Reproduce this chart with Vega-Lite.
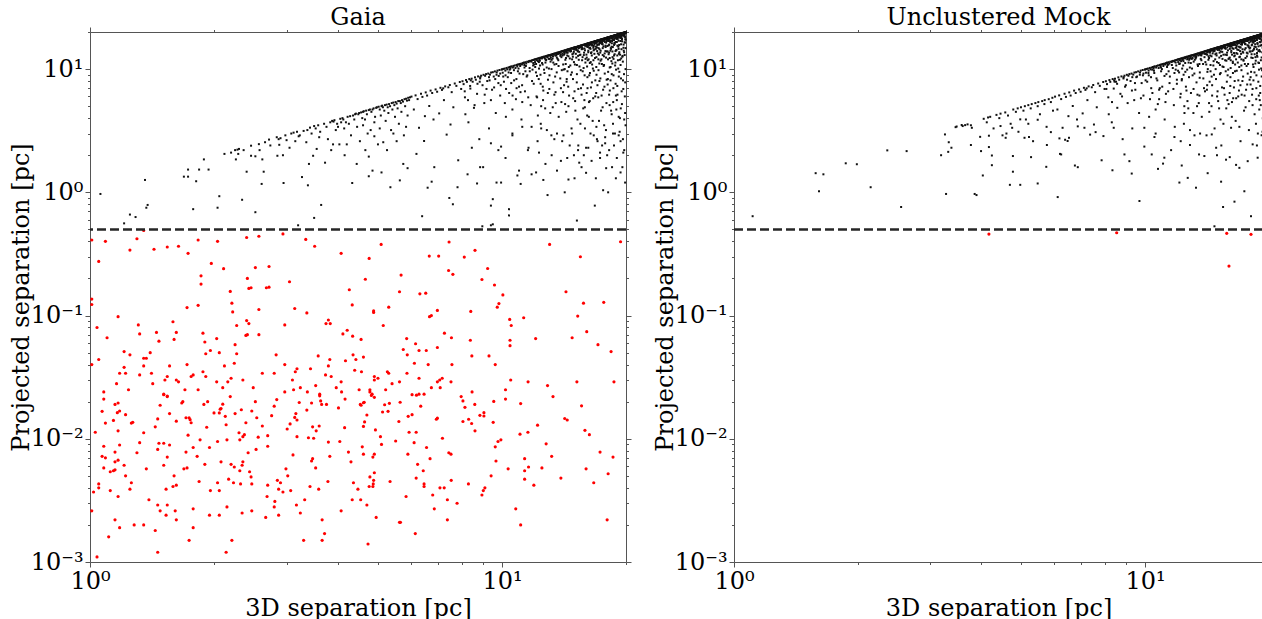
{
"$schema": "https://vega.github.io/schema/vega-lite/v6.json",
"padding": {"left": 9, "top": 6, "right": 0, "bottom": 0},
"spacing": 21,
"config": {
  "font": "DejaVu Serif",
  "view": {"stroke": null},
  "axis": {"labelFont": "DejaVu Serif", "titleFont": "DejaVu Serif", "labelFontSize": 24, "titleFontSize": 24, "titleFontWeight": "normal", "labelColor": "#000", "titleColor": "#000", "domainColor": "#555", "tickColor": "#555", "grid": false, "labelOverlap": false, "labelFlush": false, "labelPadding": 2, "titlePadding": 6},
  "axisLeft": {"titlePadding": -3},
  "axisBottom": {"titlePadding": 3},
  "title": {"font": "DejaVu Serif", "fontSize": 24, "fontWeight": "normal", "offset": -10, "color": "#000"}
},
"hconcat": [
{
  "title": "Gaia",
  "width": 536, "height": 530,
  "resolve": {"axis": {"x": "independent", "y": "independent"}},
  "layer": [
    {
      "data": {"values": "x,y\n1.06,0.97\n1.21,0.56\n1.25,0.66\n1.29,0.63\n1.36,1.26\n1.37,0.75\n1.38,0.79\n1.69,1.34\n1.73,1.34\n1.73,1.53\n1.81,1.23\n1.84,1.53\n1.94,1.53\n1.78,0.73\n1.89,1.85\n2.04,0.75\n2.06,0.93\n2.2,2.1\n2.25,2.2\n2.28,2.22\n2.3,2.25\n2.26,1.85\n2.29,2.05\n2.34,0.87\n2.4,1.47\n2.46,2.39\n2.52,1.96\n2.46,1.98\n2.57,2.46\n2.62,1.85\n2.52,0.69\n2.61,1.17\n2.64,1.47\n2.74,2.4\n2.72,2.68\n2.84,2.8\n2.87,2.7\n2.88,2.43\n2.85,1.98\n2.94,2\n2.95,1.19\n2.12,2.05\n2.36,2.2\n2.58,2.2\n2.66,2.55\n2.9,2.75\n2.98,2.9\n3,2.65\n3.05,2.3\n3.08,3\n3.12,3.05\n3.18,3.1\n3.23,2.9\n3.21,2.85\n3.27,1.33\n3.2,0.54\n3.38,1.14\n3.37,3.2\n3.42,3.35\n3.5,3.45\n3.53,3.3\n3.6,2.8\n3.48,1.98\n3.5,0.62\n3.64,0.79\n3.72,1.74\n3.83,3.7\n3.87,3.8\n3.9,3.75\n3.95,3.2\n3.15,2.6\n3.3,3.15\n3.35,2.55\n3.45,3\n3.58,3.5\n3.62,3.1\n3.7,3.6\n3.75,3.4\n3.78,2.7\n3.92,3.85\n3.98,3.6\n3.55,2.25\n3.85,2.2\n3.4,1.7\n4,3.4\n4.07,3.7\n4.1,4\n4.14,3.3\n4.18,3.7\n3.89,2.45\n4.03,2.45\n4.2,2.45\n4.33,1.19\n4.4,4.3\n4.5,4.4\n4.6,4.5\n4.75,4.65\n4.85,4.7\n4.95,4.85\n4.6,3.5\n4.8,3.2\n4.9,2.85\n4.75,1.95\n4.85,1.5\n4.75,1.35\n4.05,3.95\n4.12,3.9\n4.22,4.1\n4.25,3.6\n4.28,4.15\n4.3,2.9\n4.35,4.2\n4.38,3.9\n4.42,4.35\n4.45,3.4\n4.48,4.3\n4.52,2.6\n4.55,4.45\n4.58,4\n4.62,4.55\n4.65,3.9\n4.68,4.6\n4.7,4.3\n4.72,3\n4.78,4.7\n4.82,4.5\n4.88,4.8\n4.92,4.1\n4.97,4.9\n4.44,1.7\n4.66,2.2\n4.15,2\n4.9,3.7\n5,2.45\n5.05,3.3\n5.15,2.55\n5.1,1.45\n5.1,5\n5.36,1.1\n5.76,1.7\n5.9,1.57\n5.02,4.95\n5.05,4.7\n5.08,4.2\n5.12,5.05\n5.14,4.9\n5.18,4.6\n5.2,5.1\n5.22,3.8\n5.25,5.15\n5.28,4.9\n5.3,4.4\n5.32,5.2\n5.35,5\n5.38,3.2\n5.4,5.3\n5.42,4.7\n5.45,5.35\n5.48,5.1\n5.5,4.1\n5.52,5.4\n5.55,5.25\n5.58,4.8\n5.6,5.5\n5.62,3.6\n5.65,5.5\n5.68,5.3\n5.7,4.5\n5.72,5.6\n5.75,5.45\n5.78,2.9\n5.8,5.7\n5.82,5\n5.85,5.75\n5.88,5.55\n5.9,4.2\n5.92,5.85\n5.95,5.6\n5.98,5.9\n5.26,2.2\n5.55,2.6\n5.65,1.25\n5.45,3\n5.85,3.4\n6.4,0.64\n6.6,1.09\n6.75,1.22\n7.45,0.9\n7.6,0.8\n7.8,1.1\n8.45,2.3\n8.25,1.4\n8.85,1.6\n8.7,1.18\n9.4,2.5\n9.8,2.2\n9,1.6\n8.96,0.53\n9.4,0.54\n9.5,0.55\n9.4,0.78\n9.5,0.88\n9.7,1.2\n9.95,1.2\n10.9,1.37\n11.1,1.17\n11,1.5\n10.4,0.73\n10.4,0.65\n10.6,2.9\n11.2,3.4\n11.6,2.3\n10.2,1.9\n11.8,1.4\n12.6,1.26\n12.9,0.95\n12.3,2.1\n12.75,1.7\n13.2,2\n13.6,1.5\n13.4,2.7\n12.1,1.45\n13.9,1.8\n12.45,3.3\n14.2,1\n14.5,1.27\n15.2,0.59\n14,2.6\n14.4,1.9\n14.8,3\n15.3,2.2\n15.6,1.6\n15.9,3.3\n14.6,2.4\n15,1.3\n15.4,1.74\n15.8,2\n16,1.44\n16.8,0.78\n17.6,1.04\n17.9,1.57\n16.2,2.3\n16.5,1.8\n17,2.7\n17.3,1.9\n17.7,3.5\n16.4,3\n16.9,1.3\n17.5,2.4\n16.1,4.2\n17.2,3.8\n17.8,2.8\n18.2,2.2\n18.6,3\n19,1.9\n19.4,2.6\n19.8,3.9\n18.4,4.6\n19.2,4.1\n19.7,2.1\n18.9,1.3\n19.6,1.6\n18.1,1\n19.9,1.2\n6.03,5.98\n6.11,4.7\n6.17,6.12\n6.24,5.71\n6.29,3.34\n6.36,6.31\n6.41,5.95\n6.47,2.61\n6.53,6.47\n6.58,6.1\n6.66,5.02\n6.71,6.69\n6.77,6.4\n6.82,3.9\n6.9,6.84\n6.96,6.55\n7.04,4.37\n7.09,7.05\n7.15,6.78\n7.23,5.6\n7.28,7.24\n7.34,2.94\n7.41,7.12\n7.47,7.43\n7.55,6.5\n7.62,4.9\n7.68,7.64\n7.75,7.31\n7.83,1.82\n7.9,7.86\n7.96,6.9\n6.2,2.05\n6.85,1.6\n7.5,3.55\n6.5,4.15\n7.2,6.98\n8.02,7.97\n8.07,7.55\n8.13,5.9\n8.18,8.15\n8.22,7.88\n8.29,3.7\n8.33,8.3\n8.38,6.95\n8.44,8.36\n8.49,7.9\n8.55,4.85\n8.6,8.57\n8.64,8.2\n8.7,6.3\n8.75,8.72\n8.81,2.7\n8.86,8.6\n8.9,8.84\n8.97,7.4\n9.02,8.99\n9.06,5.3\n9.1,8.83\n9.15,9.11\n9.21,8\n9.26,9.2\n9.3,3.3\n9.35,9.02\n9.41,9.38\n9.46,6.8\n9.5,9.44\n9.55,8.7\n9.61,9.58\n9.66,4.4\n9.71,9.4\n9.75,9.72\n9.8,7.7\n9.86,9.83\n9.9,9.2\n9.95,2.35\n9.98,9.9\n8.4,8.1\n8.85,8.4\n9.3,8.6\n9.7,9\n8.15,4.3\n9.4,5.6\n9.9,6.1\n10.01,9.97\n10.04,9.35\n10.08,10.03\n10.11,7.9\n10.15,10.1\n10.19,9.72\n10.22,4.1\n10.26,10.22\n10.3,9.95\n10.33,8.6\n10.37,10.3\n10.41,6.4\n10.44,10.4\n10.48,10.1\n10.52,9.3\n10.55,10.52\n10.6,3\n10.63,10.3\n10.66,10.61\n10.7,8.1\n10.74,10.7\n10.78,10.2\n10.81,5.7\n10.85,10.8\n10.89,10.5\n10.93,9.6\n10.96,10.92\n11,7.2\n11.04,10.99\n11.07,10.6\n11.11,11.05\n11.15,3.9\n11.18,10.9\n11.22,11.19\n11.26,9.1\n11.3,11.24\n11.33,10.8\n11.37,6.6\n11.41,11.38\n11.45,11.1\n11.48,8.7\n11.52,11.49\n11.56,2.2\n11.6,11.4\n11.63,11.6\n11.67,10.2\n11.7,11.66\n11.74,5.1\n11.78,11.5\n11.82,11.79\n11.86,9.9\n11.9,11.85\n11.94,7.6\n11.98,11.92\n10.5,10.45\n10.9,10.85\n11.3,11.28\n11.7,11.64\n10.2,8.9\n10.85,7\n11.4,9.6\n11.9,10.7\n10.6,4.7\n11.2,5.4\n11.8,3.4\n12.01,11.96\n12.03,11.4\n12.06,12.02\n12.09,9.4\n12.12,12.08\n12.14,11.8\n12.17,5.9\n12.2,12.17\n12.23,11.6\n12.26,12.2\n12.28,8.3\n12.31,12.27\n12.34,12\n12.37,10.7\n12.39,12.36\n12.42,3.6\n12.45,12.3\n12.48,12.44\n12.51,11.2\n12.53,12.5\n12.56,7.2\n12.59,12.45\n12.62,12.58\n12.65,9.9\n12.67,12.62\n12.7,12.3\n12.73,4.8\n12.76,12.72\n12.79,11.9\n12.81,12.78\n12.84,10.3\n12.87,12.6\n12.9,12.86\n12.92,6.4\n12.95,12.9\n12.98,12.1\n13.01,12.97\n13.04,8.9\n13.07,13.02\n13.1,12.8\n13.12,11.5\n13.15,13.1\n13.18,2.9\n13.21,13\n13.24,13.2\n13.27,12.2\n13.3,13.25\n13.33,7.8\n13.35,13.1\n13.38,13.34\n13.41,10.9\n13.44,13.4\n13.47,12.9\n13.5,5.3\n13.53,13.48\n13.56,13.1\n13.58,9.4\n13.61,13.57\n13.64,13.3\n13.67,13.63\n13.7,11.8\n13.73,4.1\n13.76,13.72\n13.79,13.4\n13.82,13.78\n13.85,8.4\n13.88,13.6\n13.91,13.87\n13.94,12.5\n13.97,13.93\n12.1,11\n12.5,12.2\n12.9,12.5\n13.3,12.7\n13.7,13.3\n12.3,10.1\n12.75,11.3\n13.2,11.9\n13.65,12.1\n12.4,9\n13,10.1\n13.55,11\n12.6,6.7\n13.4,6.2\n13.9,7\n12.2,2.6\n12.85,3.2\n13.6,3\n12.45,5\n13.1,4.4\n14.01,13.97\n14.03,13.3\n14.05,14.01\n14.08,10.9\n14.1,14.06\n14.12,13.8\n14.15,7.4\n14.17,14.14\n14.2,13.7\n14.22,14.18\n14.25,11.9\n14.27,14.23\n14.3,14\n14.32,4.5\n14.35,14.31\n14.37,13.6\n14.4,14.36\n14.42,9.6\n14.45,14.4\n14.47,14.1\n14.5,12.7\n14.52,14.48\n14.55,6.1\n14.57,14.53\n14.6,14.2\n14.62,14.59\n14.65,10.7\n14.67,14.63\n14.7,14\n14.72,14.69\n14.75,3.3\n14.77,14.7\n14.8,14.76\n14.82,13.2\n14.85,14.81\n14.87,8.3\n14.9,14.6\n14.92,14.89\n14.95,11.4\n14.97,14.93\n15,14.5\n15.02,14.99\n15.05,5.5\n15.07,15.03\n15.1,14.7\n15.12,15.08\n15.15,12.4\n15.17,15.13\n15.2,9.1\n15.22,15\n15.25,15.21\n15.27,13.9\n15.3,15.26\n15.32,2.4\n15.35,15.3\n15.37,14.8\n15.4,15.37\n15.42,10.5\n15.45,15.41\n15.47,15.1\n15.5,13.1\n15.52,15.49\n15.55,7\n15.57,15.53\n15.6,15.2\n15.62,15.59\n15.65,11.8\n15.67,15.63\n15.7,14.6\n15.72,15.69\n15.75,4.8\n15.77,15.7\n15.8,15.76\n15.82,13.6\n15.85,15.81\n15.87,8.9\n15.9,15.5\n15.92,15.89\n15.95,12.1\n15.97,15.93\n14.15,13.1\n14.4,12.9\n14.65,13.9\n14.9,13.4\n15.15,14.3\n15.4,13.8\n15.65,14.9\n15.9,14.2\n14.3,12.3\n14.8,12\n15.3,12.8\n15.8,13\n14.2,10\n14.7,9\n15.2,10.8\n15.7,9.6\n14.35,7.9\n15,6.6\n15.6,6.2\n14.5,5\n15.25,3.9\n15.85,5.6\n14.1,2.9\n14.95,2\n15.5,3.6\n14.6,14.55\n15,14.96\n15.35,15.33\n15.75,15.72\n14.45,14.42\n14.85,14.8\n15.55,15.5\n15.95,15.9\n16.01,15.97\n16.02,15.4\n16.04,16.01\n16.06,12.4\n16.08,16.05\n16.1,15.8\n16.12,8.6\n16.14,16.11\n16.16,15.5\n16.18,16.15\n16.2,13.7\n16.22,16.18\n16.24,15.9\n16.26,5.4\n16.28,16.25\n16.3,15.6\n16.32,16.29\n16.34,11.2\n16.36,16.32\n16.38,16\n16.4,14.6\n16.42,16.39\n16.44,7.1\n16.46,16.42\n16.48,16.1\n16.5,16.47\n16.52,12.9\n16.54,16.5\n16.56,15.7\n16.58,16.55\n16.6,3.8\n16.62,16.5\n16.64,16.61\n16.66,14.9\n16.68,16.65\n16.7,9.7\n16.72,16.4\n16.74,16.71\n16.76,13.3\n16.78,16.74\n16.8,16.3\n16.82,16.79\n16.84,6\n16.86,16.83\n16.88,16.5\n16.9,15.2\n16.92,16.89\n16.94,10.4\n16.96,16.92\n16.98,16.6\n17,16.97\n17.02,14\n17.04,17\n17.06,2.6\n17.08,17.05\n17.1,16.7\n17.12,17.09\n17.14,12\n17.16,17.12\n17.18,16.9\n17.2,15.8\n17.22,17.19\n17.24,8\n17.26,17.22\n17.28,16.8\n17.3,17.27\n17.32,13.6\n17.34,17.3\n17.36,17\n17.38,17.35\n17.4,4.6\n17.42,17.38\n17.44,16.4\n17.46,17.43\n17.48,11\n17.5,17.46\n17.52,17.1\n17.54,17.51\n17.56,14.8\n17.58,17.54\n17.6,6.8\n17.62,17.59\n17.64,17.2\n17.66,17.63\n17.68,12.7\n17.7,17.66\n17.72,16.9\n17.74,17.71\n17.76,9.2\n17.78,17.74\n17.8,17.4\n17.82,17.79\n17.84,15.5\n17.86,17.82\n17.88,3.2\n17.9,17.87\n17.92,17.5\n17.94,17.91\n17.96,13.9\n17.98,17.94\n16.1,15.2\n16.3,14.8\n16.5,15.9\n16.7,15.4\n16.9,16.2\n17.1,15.9\n17.3,16.5\n17.5,16\n17.7,17\n17.9,16.4\n16.2,14.1\n16.45,13.5\n16.75,14.4\n17,15\n17.25,14.5\n17.55,15.9\n17.85,15.1\n16.15,11.8\n16.55,10.9\n16.95,12.5\n17.35,11.7\n17.75,13.4\n16.35,9.3\n16.85,8.1\n17.15,9.8\n17.65,10.6\n16.05,6.4\n16.65,5.8\n17.05,7.4\n17.45,6.1\n17.95,8.2\n16.25,4.1\n16.95,3.4\n17.55,4.9\n16.4,16.36\n16.8,16.77\n17.2,17.17\n17.6,17.55\n17.95,17.9\n16.15,16.12\n16.6,16.57\n17.05,17.02\n17.45,17.42\n17.85,17.8\n16.3,16.2\n16.75,16.6\n17.15,17\n17.65,17.45\n16,2.3\n16.7,2.9\n17.3,2.1\n17.8,2.5\n18.01,17.97\n18.02,17.5\n18.04,18.01\n18.05,13.9\n18.07,18.04\n18.08,17.8\n18.1,9.5\n18.11,18.08\n18.13,17.3\n18.14,18.11\n18.16,15.6\n18.17,18.14\n18.19,17.9\n18.2,6.2\n18.22,18.19\n18.23,17.6\n18.25,18.22\n18.26,12.3\n18.28,18.25\n18.29,18\n18.31,16.5\n18.32,18.29\n18.34,8.1\n18.35,18.32\n18.37,18.1\n18.38,18.35\n18.4,14.6\n18.41,18.38\n18.43,17.7\n18.44,18.41\n18.46,4.3\n18.47,18.3\n18.49,18.46\n18.5,16.9\n18.52,18.49\n18.53,11.1\n18.55,18.2\n18.56,18.53\n18.58,15.1\n18.59,18.56\n18.61,18.3\n18.62,18.59\n18.64,7\n18.65,18.62\n18.67,18.4\n18.68,17.3\n18.7,18.67\n18.71,12.9\n18.73,18.69\n18.74,18.4\n18.76,18.73\n18.77,16\n18.79,18.76\n18.8,3\n18.82,18.79\n18.83,18.5\n18.85,18.82\n18.86,14\n18.88,18.85\n18.89,18.1\n18.91,18.88\n18.92,9.9\n18.94,18.91\n18.95,18.6\n18.97,17.6\n18.98,18.95\n19,5.6\n19.01,18.98\n19.03,18.7\n19.04,19.01\n19.06,15.5\n19.07,19.04\n19.09,18.8\n19.1,19.07\n19.12,11.8\n19.13,19.1\n19.15,18.4\n19.16,19.13\n19.18,17\n19.19,19.16\n19.21,8.7\n19.22,19.19\n19.24,18.9\n19.25,19.22\n19.27,13.7\n19.28,19.25\n19.3,18.6\n19.31,19.28\n19.33,4\n19.34,19.31\n19.36,19\n19.37,17.9\n19.39,19.36\n19.4,10.8\n19.42,19.39\n19.43,19.1\n19.45,19.42\n19.46,15.9\n19.48,19.45\n19.49,18.8\n19.51,19.48\n19.52,6.6\n19.54,19.51\n19.55,19.2\n19.57,16.8\n19.58,19.55\n19.6,12.6\n19.61,19.58\n19.63,19.3\n19.64,19.61\n19.66,2.7\n19.67,19.64\n19.69,19\n19.7,19.67\n19.72,14.9\n19.73,19.7\n19.75,19.4\n19.76,19.73\n19.78,9.1\n19.79,19.76\n19.81,19.5\n19.82,18.4\n19.84,19.81\n19.85,13\n19.87,19.84\n19.88,19.5\n19.9,19.87\n19.91,7.8\n19.93,19.9\n19.94,19.6\n19.96,17.3\n19.97,19.94\n19.99,19.7\n18.1,17.1\n18.3,16.9\n18.5,17.8\n18.7,17.2\n18.9,18\n19.1,17.6\n19.3,18.3\n19.5,17.9\n19.7,18.8\n19.9,18.2\n18.2,15.8\n18.45,15.2\n18.75,16.3\n19,16.6\n19.25,15.7\n19.55,17.4\n19.85,16.5\n18.15,13.2\n18.55,12.5\n18.95,14.3\n19.35,13.1\n19.75,14.1\n18.35,10.4\n18.85,11.3\n19.15,10.1\n19.65,11.5\n18.05,7.5\n18.65,8.9\n19.05,7.3\n19.45,8.4\n19.95,10\n18.25,5.1\n18.95,4.7\n19.55,5.2\n19.9,4.4\n18.4,18.37\n18.8,18.77\n19.2,19.17\n19.6,19.57\n19.95,19.92\n18.15,18.12\n18.6,18.57\n19.05,19.02\n19.45,19.41\n19.85,19.82\n18.3,18.2\n18.75,18.6\n19.15,19\n19.65,19.45\n18,2\n18.7,2.4\n19.3,3.1\n19.8,2.2\n18.5,1.6\n19.4,1.45\n18.6,3.6\n19.2,2.9\n19.95,3.5\n18.9,6.1\n19.7,6.9\n8.12,6.6\n8.37,7.3\n8.58,5.1\n8.83,7.9\n9.08,6.2\n9.33,8.1\n9.57,7.1\n9.82,8.8\n8.27,5.6\n8.72,7.6\n9.17,6.9\n9.63,8.3\n9.93,7.4\n10.07,8.7\n10.23,6.9\n10.38,9.4\n10.53,7.7\n10.69,9.8\n10.84,8.3\n11.03,9.2\n11.19,7.4\n11.34,10.3\n11.52,8.9\n11.68,9.6\n11.83,8\n11.97,10.9\n10.16,5.3\n10.61,6.1\n11.09,6.5\n11.58,5.9\n10.44,9.9\n10.97,10.1\n11.43,10.6\n11.91,11.2\n12.04,10.4\n12.16,8.8\n12.29,11.4\n12.41,7.6\n12.55,10.9\n12.68,9.3\n12.8,11.8\n12.93,8.2\n13.06,12.1\n13.19,10\n13.32,11.3\n13.46,8.7\n13.59,12.4\n13.72,10.6\n13.86,12.8\n13.97,9.8\n12.13,6\n12.58,5.6\n13.03,6.9\n13.49,6.5\n13.94,5.4\n12.36,11.7\n12.74,12\n13.14,12.4\n13.53,12.9\n13.89,13.1\n12.22,4.2\n13.28,4.9\n14.03,12.9\n14.11,9.9\n14.19,13.4\n14.28,11\n14.36,8.3\n14.44,13.6\n14.53,10.4\n14.61,12.2\n14.69,14\n14.78,9.4\n14.86,12.6\n14.94,13.8\n15.03,10.9\n15.11,13.3\n15.19,7.8\n15.28,14.2\n15.36,11.9\n15.44,13\n15.53,9.8\n15.61,14.5\n15.69,12.5\n15.78,10.2\n15.86,14.7\n15.94,11.3\n14.07,6.5\n14.48,7.2\n14.89,5.8\n15.32,6.9\n15.73,7.5\n14.23,5.2\n15.07,4.6\n15.89,4.9\n14.65,14.2\n15.15,14.7\n15.57,15\n14.32,13.9\n14.98,14.4\n16.03,13.1\n16.09,10.5\n16.16,15.1\n16.23,12\n16.29,8.9\n16.36,14.9\n16.42,11.4\n16.49,13.7\n16.56,15.5\n16.62,10.1\n16.69,14.2\n16.76,15.9\n16.82,12.3\n16.89,14.6\n16.96,9\n17.03,15.7\n17.09,13.4\n17.16,14.8\n17.23,11.1\n17.29,16.2\n17.36,14.1\n17.43,12\n17.49,16.5\n17.56,13\n17.63,15.3\n17.69,10.8\n17.76,16.6\n17.83,14\n17.89,12.4\n17.96,16.9\n16.13,7\n16.53,7.8\n16.93,6.4\n17.33,8.4\n17.73,7.2\n16.33,5.5\n17.13,5.9\n17.93,5.3\n16.47,15.8\n16.87,16.3\n17.27,16.7\n17.67,17.1\n16.07,15.6\n17.47,16.8\n16.67,11.8\n17.19,13.1\n18.03,15.4\n18.09,12\n18.14,16.9\n18.2,13.6\n18.26,10.3\n18.31,17\n18.37,14.8\n18.43,11.6\n18.48,16.2\n18.54,13.9\n18.6,17.4\n18.65,12.1\n18.71,15.7\n18.77,17.8\n18.82,10.7\n18.88,16.6\n18.94,14.2\n18.99,17.7\n19.05,12.9\n19.11,18.1\n19.16,15.2\n19.22,13.3\n19.28,18.3\n19.33,11.9\n19.39,16.9\n19.45,18.5\n19.5,14.5\n19.56,17.6\n19.62,12.8\n19.67,18.7\n19.73,15.8\n19.79,13.7\n19.84,18.9\n19.9,16.4\n19.96,14.8\n18.07,8.3\n18.47,9.1\n18.87,7.6\n19.27,9.5\n19.67,8.1\n18.27,6.7\n19.07,6.2\n19.87,6\n18.57,17.9\n18.97,18.4\n19.37,18.7\n19.77,19.1\n18.17,17.6\n19.57,18.9\n18.77,13.2\n19.47,12.2\n18.33,14.1\n19.19,14.6\n19.93,17.5\n18.62,5.4\n19.42,4.8", "format": {"type": "csv", "parse": {"x": "number", "y": "number"}}},
      "mark": {"type": "point", "shape": "square", "filled": true, "size": 4, "color": "#111", "opacity": 1, "strokeWidth": 0},
      "encoding": {
        "x": {"field": "x", "type": "quantitative", "scale": {"type": "log", "domain": [1, 20], "nice": false},
          "axis": {"orient": "bottom", "title": "3D separation [pc]", "values": [1,2,3,4,5,6,7,8,9,10,20], "labelExpr": "datum.value == 1 ? '10⁰' : datum.value == 10 ? '10¹' : ''", "tickSize": {"condition": {"test": "datum.value == 1 || datum.value == 10", "value": 5}, "value": 2.5}}},
        "y": {"field": "y", "type": "quantitative", "scale": {"type": "log", "domain": [0.001, 20], "nice": false},
          "axis": {"orient": "left", "title": "Projected separation [pc]", "values": [0.001,0.002,0.003,0.004,0.005,0.006,0.007,0.008,0.009,0.01,0.02,0.03,0.04,0.05,0.06,0.07,0.08,0.09,0.1,0.2,0.3,0.4,0.5,0.6,0.7,0.8,0.9,1,2,3,4,5,6,7,8,9,10,20], "labelExpr": "abs(log(datum.value)/LN10 - round(log(datum.value)/LN10)) < 0.01 ? ['10⁻³','10⁻²','10⁻¹','10⁰','10¹'][round(log(datum.value)/LN10) + 3] : ''", "tickSize": {"condition": {"test": "abs(log(datum.value)/LN10 - round(log(datum.value)/LN10)) < 0.01", "value": 5}, "value": 2.5}}}
      }
    },
    {
      "data": {"values": "x,y\n1.01,0.41\n1.09,0.40\n1.35,0.49\n1.30,0.42\n1.25,0.34\n1.05,0.275\n1.43,0.345\n1.54,0.36\n1.64,0.365\n1.73,0.32\n1.83,0.41\n2.04,0.40\n1.97,0.265\n2.11,0.24\n1.86,0.21\n1.86,0.18\n2.40,0.43\n2.57,0.44\n2.94,0.46\n3.34,0.415\n3.51,0.365\n4.07,0.32\n2.52,0.245\n2.72,0.25\n2.41,0.20\n2.43,0.166\n2.46,0.168\n2.68,0.168\n2.72,0.17\n3.05,0.188\n4.26,0.162\n4.33,0.122\n1.01,0.136\n1.01,0.123\n2.19,0.157\n2.21,0.126\n2.22,0.107\n1.72,0.116\n1.83,0.121\n2.57,0.112\n3.14,0.114\n3.36,0.105\n1.17,0.098\n1.04,0.080\n1.10,0.066\n1.31,0.084\n1.32,0.071\n1.45,0.073\n1.47,0.062\n1.59,0.089\n1.62,0.073\n1.60,0.064\n1.88,0.072\n1.90,0.061\n2.03,0.065\n1.96,0.052\n1.91,0.049\n2.06,0.050\n2.27,0.083\n2.40,0.091\n2.43,0.086\n2.39,0.069\n2.41,0.070\n2.57,0.070\n2.25,0.058\n2.27,0.049\n2.24,0.041\n2.12,0.039\n2.97,0.084\n2.83,0.048\n2.97,0.040\n3.79,0.092\n3.74,0.086\n3.83,0.086\n4.11,0.071\n4.21,0.076\n4.34,0.068\n4.35,0.048\n4.42,0.044\n4.17,0.043\n4.39,0.036\n3.58,0.047\n3.82,0.044\n3.79,0.039\n3.73,0.033\n3.85,0.032\n3.43,0.037\n3.18,0.037\n3.15,0.035\n3.10,0.030\n3.24,0.026\n3.12,0.025\n2.97,0.024\n3.53,0.027\n3.37,0.024\n3.61,0.023\n3.96,0.026\n4.07,0.029\n4.08,0.024\n2.62,0.034\n2.80,0.034\n2.49,0.026\n2.35,0.030\n2.20,0.031\n2.16,0.029\n2.03,0.029\n2.10,0.026\n1.83,0.025\n1.70,0.025\n1.88,0.035\n1.91,0.032\n1.76,0.032\n1.78,0.033\n1.72,0.040\n1.62,0.030\n1.64,0.029\n1.52,0.030\n1.54,0.032\n1.56,0.039\n1.51,0.023\n1.54,0.022\n1.40,0.050\n1.35,0.045\n1.37,0.045\n1.35,0.039\n1.25,0.048\n1.21,0.051\n1.32,0.033\n1.41,0.034\n1.42,0.028\n1.21,0.038\n1.22,0.034\n1.18,0.034\n1.05,0.044\n1.01,0.040\n1.16,0.028\n1.24,0.025\n1.08,0.024\n5.09,0.378\n4.76,0.291\n4.66,0.197\n7.44,0.395\n6.66,0.304\n7.02,0.304\n8.10,0.298\n8.60,0.338\n7.42,0.232\n7.60,0.216\n5.69,0.213\n5.64,0.156\n6.32,0.15\n6.53,0.152\n5.31,0.117\n4.88,0.109\n4.88,0.106\n5.15,0.083\n6.67,0.098\n6.74,0.10\n6.97,0.110\n8.40,0.108\n9.23,0.241\n8.94,0.196\n9.59,0.177\n10.05,0.147\n9.83,0.125\n9.74,0.117\n10.44,0.093\n10.53,0.083\n11.29,0.096\n13.05,0.378\n15.50,0.30\n19.4,0.397\n14.3,0.156\n15.77,0.126\n17.66,0.128\n15.27,0.099\n16.06,0.074\n14.8,0.066\n17.1,0.058\n18.4,0.051\n12.07,0.065\n10.46,0.063\n10.46,0.057\n8.38,0.063\n8.45,0.047\n9.3,0.047\n9.63,0.040\n7.54,0.066\n7.25,0.072\n6.97,0.055\n6.17,0.059\n6.29,0.052\n6.55,0.052\n5.87,0.065\n5.76,0.053\n5.89,0.048\n6.13,0.041\n6.62,0.040\n7.56,0.040\n4.55,0.064\n4.61,0.046\n4.56,0.035\n4.90,0.032\n4.90,0.030\n5.0,0.031\n5.27,0.035\n5.31,0.034\n5.88,0.034\n5.64,0.029\n5.41,0.028\n6.29,0.031\n6.97,0.029\n7.06,0.030\n7.16,0.031\n7.52,0.029\n6.74,0.026\n7.08,0.026\n6.29,0.023\n6.47,0.023\n4.50,0.025\n4.78,0.025\n4.78,0.024\n4.84,0.023\n5.22,0.025\n8.46,0.024\n10.5,0.030\n11.57,0.029\n10.2,0.025\n12.9,0.027\n15.2,0.029\n18.7,0.029\n1.08,0.021\n1.07,0.0167\n1.09,0.0134\n1.03,0.0113\n1.15,0.019\n1.17,0.0195\n1.18,0.0168\n1.165,0.0163\n1.14,0.0141\n1.17,0.0116\n1.22,0.0157\n1.26,0.0134\n1.27,0.0136\n1.08,0.0087\n1.07,0.0072\n1.09,0.0070\n1.08,0.0058\n1.15,0.0078\n1.18,0.0089\n1.17,0.0067\n1.15,0.0065\n1.15,0.0056\n1.14,0.0055\n1.12,0.0054\n1.21,0.0061\n1.22,0.0050\n1.26,0.0044\n1.25,0.0039\n1.05,0.0043\n1.05,0.0040\n1.02,0.0037\n1.12,0.0038\n1.17,0.0034\n1.01,0.0026\n1.15,0.0022\n1.18,0.0019\n1.11,0.0016\n1.04,0.0011\n1.30,0.0077\n1.32,0.0093\n1.35,0.0112\n1.37,0.0057\n1.39,0.0032\n1.28,0.0020\n1.35,0.0020\n1.44,0.0018\n1.46,0.0012\n1.44,0.0125\n1.46,0.0145\n1.48,0.0187\n1.51,0.0228\n1.54,0.0222\n1.46,0.0082\n1.47,0.0092\n1.51,0.0092\n1.51,0.0061\n1.54,0.0071\n1.56,0.0089\n1.56,0.016\n1.62,0.0139\n1.53,0.0039\n1.60,0.0050\n1.59,0.0041\n1.62,0.0042\n1.46,0.0029\n1.48,0.0026\n1.54,0.0029\n1.53,0.0024\n1.61,0.0026\n1.62,0.0022\n1.67,0.0195\n1.68,0.0200\n1.71,0.0148\n1.74,0.0148\n1.75,0.0143\n1.76,0.0135\n1.73,0.0107\n1.78,0.0085\n1.71,0.0078\n1.82,0.0072\n1.69,0.0057\n1.72,0.0058\n1.84,0.0045\n1.78,0.0027\n1.78,0.0019\n1.74,0.0015\n1.85,0.0098\n1.89,0.019\n1.93,0.020\n1.92,0.0124\n1.90,0.0062\n1.95,0.0085\n1.96,0.0038\n1.95,0.0024\n2.00,0.0162\n2.07,0.0174\n2.08,0.0176\n2.06,0.0162\n2.10,0.0191\n2.13,0.0152\n2.14,0.013\n2.19,0.022\n2.04,0.0095\n2.08,0.0065\n2.04,0.0044\n2.06,0.0038\n2.06,0.0024\n2.15,0.0028\n2.14,0.0012\n2.21,0.0015\n2.15,0.0098\n2.17,0.0047\n2.23,0.0044\n2.20,0.0062\n2.24,0.0059\n2.25,0.016\n2.33,0.0172\n2.30,0.0112\n2.31,0.0098\n2.35,0.0104\n2.37,0.0108\n2.34,0.0061\n2.35,0.0065\n2.31,0.0055\n2.32,0.0043\n2.34,0.0025\n2.39,0.0135\n2.47,0.0168\n2.52,0.020\n2.54,0.0148\n2.56,0.0103\n2.42,0.0077\n2.44,0.0054\n2.46,0.0049\n2.47,0.0043\n2.47,0.0026\n2.53,0.0082\n2.62,0.0127\n2.70,0.0106\n2.70,0.0087\n2.70,0.0042\n2.69,0.0034\n2.67,0.0023\n2.76,0.0154\n2.80,0.0184\n2.84,0.0208\n2.99,0.0057\n2.85,0.0046\n2.90,0.0044\n2.87,0.0039\n2.94,0.0037\n2.81,0.0031\n2.80,0.0028\n2.87,0.0024\n3.01,0.0120\n3.06,0.0132\n3.02,0.0050\n3.07,0.0038\n3.11,0.0074\n3.14,0.0149\n3.16,0.016\n3.18,0.0142\n3.18,0.0104\n3.22,0.0197\n3.17,0.0029\n3.24,0.0025\n3.30,0.0015\n3.32,0.0032\n3.36,0.0171\n3.45,0.0195\n3.39,0.0102\n3.49,0.0101\n3.47,0.0125\n3.54,0.0116\n3.60,0.0127\n3.42,0.0041\n3.45,0.0066\n3.47,0.0069\n3.53,0.0058\n3.59,0.0039\n3.66,0.0022\n3.71,0.0017\n3.66,0.0015\n3.61,0.0223\n3.63,0.0203\n3.65,0.019\n3.75,0.019\n3.79,0.0094\n3.82,0.0072\n3.78,0.0045\n4.01,0.0178\n4.04,0.0095\n4.16,0.021\n4.15,0.0123\n4.24,0.0078\n4.30,0.0065\n4.36,0.0044\n4.33,0.0032\n4.07,0.0026\n4.53,0.0190\n4.55,0.0187\n4.61,0.0196\n4.63,0.0198\n4.82,0.0225\n4.90,0.0217\n4.70,0.0156\n4.64,0.0137\n4.61,0.0126\n4.93,0.0118\n5.13,0.0165\n5.19,0.0189\n5.29,0.0167\n5.33,0.0194\n5.07,0.0104\n5.10,0.0090\n4.58,0.0086\n4.61,0.0075\n4.86,0.0071\n4.90,0.0075\n4.90,0.0053\n4.88,0.0046\n4.87,0.0043\n4.78,0.0049\n4.76,0.0041\n4.86,0.0041\n4.47,0.0039\n4.54,0.0032\n4.70,0.0029\n4.95,0.0023\n4.73,0.0014\n5.35,0.0045\n5.52,0.0096\n5.62,0.0138\n5.66,0.0198\n5.92,0.0152\n6.05,0.0157\n5.95,0.0113\n5.91,0.0075\n6.12,0.0093\n6.19,0.0113\n6.24,0.0062\n6.19,0.0048\n5.85,0.0034\n5.64,0.0021\n5.67,0.0021\n6.16,0.0017\n6.35,0.0184\n6.44,0.0055\n6.47,0.0043\n6.47,0.0041\n6.56,0.0085\n6.69,0.0069\n6.79,0.0035\n6.85,0.0027\n6.93,0.0144\n6.97,0.0147\n7.17,0.0101\n7.07,0.0040\n7.24,0.0040\n7.37,0.0032\n7.37,0.0022\n7.43,0.0077\n7.52,0.0075\n7.53,0.0046\n7.78,0.0030\n7.96,0.022\n8.04,0.0203\n8.13,0.018\n8.04,0.0138\n8.30,0.0144\n8.44,0.0133\n8.60,0.0116\n8.59,0.0190\n8.29,0.0043\n8.84,0.0155\n9.04,0.0163\n9.04,0.0153\n9.52,0.0136\n9.55,0.0201\n9.63,0.0086\n9.78,0.0095\n9.94,0.0098\n9.67,0.0066\n9.41,0.0050\n8.94,0.0035\n9.01,0.0038\n9.09,0.0040\n10.2,0.0210\n10.35,0.0057\n10.8,0.0027\n11.1,0.0193\n11.06,0.0109\n11.56,0.0113\n11.35,0.0069\n11.35,0.0055\n11.35,0.0047\n11.6,0.0059\n11.95,0.0042\n11.1,0.0020\n12.2,0.0129\n12.5,0.0058\n12.8,0.0091\n13.2,0.0072\n13.3,0.0220\n13.9,0.0048\n14.2,0.0146\n14.4,0.0142\n15.6,0.0185\n15.9,0.0117\n16.3,0.0108\n16.0,0.0057\n16.7,0.0044\n17.3,0.0078\n18.1,0.0052\n18.6,0.0071\n18.0,0.0022\n6.05,0.0228\n6.2,0.0226", "format": {"type": "csv", "parse": {"x": "number", "y": "number"}}},
      "mark": {"type": "circle", "size": 10, "color": "#ff0000", "opacity": 1},
      "encoding": {
        "x": {"field": "x", "type": "quantitative", "scale": {"type": "log", "domain": [1, 20], "nice": false},
          "axis": {"orient": "top", "title": null, "labels": false, "values": [1,2,3,4,5,6,7,8,9,10,20], "tickSize": {"condition": {"test": "datum.value == 1 || datum.value == 10", "value": 5}, "value": 2.5}}},
        "y": {"field": "y", "type": "quantitative", "scale": {"type": "log", "domain": [0.001, 20], "nice": false},
          "axis": {"orient": "right", "title": null, "labels": false, "values": [0.001,0.002,0.003,0.004,0.005,0.006,0.007,0.008,0.009,0.01,0.02,0.03,0.04,0.05,0.06,0.07,0.08,0.09,0.1,0.2,0.3,0.4,0.5,0.6,0.7,0.8,0.9,1,2,3,4,5,6,7,8,9,10,20], "tickSize": {"condition": {"test": "abs(log(datum.value)/LN10 - round(log(datum.value)/LN10)) < 0.01", "value": 5}, "value": 2.5}}}
      }
    },
    {
      "data": {"values": [{"cut": 0.5}]},
      "mark": {"type": "rule", "color": "#262626", "strokeWidth": 2.5, "strokeDash": [9, 4]},
      "encoding": {"y": {"field": "cut", "type": "quantitative", "scale": {"type": "log", "domain": [0.001, 20], "nice": false}, "axis": null}}
    }
  ]
},
{
  "title": "Unclustered Mock",
  "width": 529, "height": 530,
  "resolve": {"axis": {"x": "independent", "y": "independent"}},
  "layer": [
    {
      "data": {"values": "x,y\n1.11,0.64\n1.58,1.43\n1.65,1.4\n1.61,1.02\n1.87,1.72\n1.99,1.69\n2.15,1.1\n2.36,2.19\n2.55,0.76\n2.63,2.16\n3.19,2\n3.33,2.55\n3.48,3.42\n3.6,3.45\n3.77,3.5\n3.85,0.97\n3.99,2.16\n3.28,0.97\n3.26,2.95\n3.32,2.13\n3.38,2.3\n3.46,3.38\n3.58,3.52\n3.65,3.51\n3.7,3.56\n3.77,2.42\n3.79,3.34\n3.89,0.95\n3.97,2.82\n4.03,1.37\n4.17,2.88\n4.17,2.33\n4.24,1.66\n4.24,1.99\n4.45,3.45\n4.58,2.77\n4.69,1.15\n4.75,3.34\n4.77,1.47\n4.77,1.97\n4.97,1.15\n4.97,3.91\n5.09,2.77\n5.22,2.81\n5.28,1.93\n5.48,1.18\n5.48,3.88\n5.75,1.61\n5.77,2.42\n5.9,3.08\n6.13,0.915\n6.19,2.74\n6.25,2.03\n6.39,2.67\n6.53,2.77\n6.75,1.65\n6.86,3.43\n7.12,3.34\n7.58,3.08\n7.92,2.86\n8.33,1.51\n8.39,3.34\n8.91,2.03\n9.16,1.79\n9.28,1.42\n9.69,0.85\n9.96,3.34\n10.38,2.03\n10.54,2.81\n10.75,1.55\n11.06,1.71\n11.14,1.91\n11.79,2.81\n12.12,1.2\n12.28,1.65\n12.7,1.31\n12.86,2.42\n13.3,1.09\n13.53,2.03\n13.94,1.97\n14.2,1.43\n14.53,2.95\n14.89,2.3\n15.31,1.22\n15.48,0.76\n15.74,1.84\n16.07,1.93\n16.19,3.34\n16.5,0.84\n16.65,1.67\n16.96,1.58\n17.44,1.02\n18.1,0.64\n17.77,1.79\n18.27,2.45\n18.79,1.91\n14.75,0.53\n4.05,3.95\n4.12,3.7\n4.2,4.1\n4.28,3.3\n4.35,4.25\n4.42,4\n4.5,2.9\n4.57,4.45\n4.64,4.2\n4.71,3.6\n4.78,4.7\n4.85,4.5\n4.92,3.1\n4.99,4.9\n5.06,4.6\n5.13,3.9\n5.2,5.1\n5.27,4.8\n5.34,2.6\n5.41,5.3\n5.48,5\n5.55,4.3\n5.62,5.5\n5.69,5.2\n5.76,3.4\n5.83,5.7\n5.9,5.4\n5.97,4.6\n4.45,4.35\n4.9,4.8\n5.3,5.2\n5.7,5.6\n4.15,4.05\n5.1,5\n5.5,5.4\n5.95,5.85\n4.6,3\n5.2,3.6\n6.04,5.98\n6.12,4.7\n6.18,6.12\n6.25,5.71\n6.3,3.34\n6.37,6.31\n6.42,5.95\n6.48,2.61\n6.54,6.47\n6.59,6.1\n6.67,5.02\n6.72,6.69\n6.78,6.4\n6.83,3.9\n6.91,6.84\n6.97,6.55\n7.05,4.37\n7.1,7.05\n7.16,6.78\n7.24,5.6\n7.29,7.24\n7.35,2.94\n7.42,7.12\n7.48,7.43\n7.56,6.5\n7.63,4.9\n7.69,7.64\n7.76,7.31\n7.84,1.82\n7.91,7.86\n7.97,6.9\n6.21,2.05\n6.86,1.6\n7.51,3.55\n6.51,4.15\n7.21,6.98\n8.03,7.97\n8.08,7.55\n8.14,5.9\n8.19,8.15\n8.23,7.88\n8.3,3.7\n8.34,8.3\n8.39,6.95\n8.45,8.36\n8.5,7.9\n8.56,4.85\n8.61,8.57\n8.65,8.2\n8.71,6.3\n8.76,8.72\n8.82,2.7\n8.87,8.6\n8.91,8.84\n8.98,7.4\n9.03,8.99\n9.07,5.3\n9.11,8.83\n9.16,9.11\n9.22,8\n9.27,9.2\n9.31,3.3\n9.36,9.02\n9.42,9.38\n9.47,6.8\n9.51,9.44\n9.56,8.7\n9.62,9.58\n9.67,4.4\n9.72,9.4\n9.76,9.72\n9.81,7.7\n9.87,9.83\n9.91,9.2\n9.96,2.35\n9.99,9.9\n8.41,8.1\n8.86,8.4\n9.31,8.6\n9.71,9\n8.16,4.3\n9.41,5.6\n9.91,6.1\n10.02,9.97\n10.05,9.35\n10.09,10.03\n10.12,7.9\n10.16,10.1\n10.2,9.72\n10.23,4.1\n10.27,10.22\n10.31,9.95\n10.34,8.6\n10.38,10.3\n10.42,6.4\n10.45,10.4\n10.49,10.1\n10.53,9.3\n10.56,10.52\n10.61,3\n10.64,10.3\n10.67,10.61\n10.71,8.1\n10.75,10.7\n10.79,10.2\n10.82,5.7\n10.86,10.8\n10.9,10.5\n10.94,9.6\n10.97,10.92\n11.01,7.2\n11.05,10.99\n11.08,10.6\n11.12,11.05\n11.16,3.9\n11.19,10.9\n11.23,11.19\n11.27,9.1\n11.31,11.24\n11.34,10.8\n11.38,6.6\n11.42,11.38\n11.46,11.1\n11.49,8.7\n11.53,11.49\n11.57,2.2\n11.61,11.4\n11.64,11.6\n11.68,10.2\n11.71,11.66\n11.75,5.1\n11.79,11.5\n11.83,11.79\n11.87,9.9\n11.91,11.85\n11.95,7.6\n11.99,11.92\n10.51,10.45\n10.91,10.85\n11.31,11.28\n11.71,11.64\n10.21,8.9\n10.86,7\n11.41,9.6\n11.91,10.7\n10.61,4.7\n11.21,5.4\n11.81,3.4\n12.02,11.96\n12.04,11.4\n12.07,12.02\n12.1,9.4\n12.13,12.08\n12.15,11.8\n12.18,5.9\n12.21,12.17\n12.24,11.6\n12.27,12.2\n12.29,8.3\n12.32,12.27\n12.35,12\n12.38,10.7\n12.4,12.36\n12.43,3.6\n12.46,12.3\n12.49,12.44\n12.52,11.2\n12.54,12.5\n12.57,7.2\n12.6,12.45\n12.63,12.58\n12.66,9.9\n12.68,12.62\n12.71,12.3\n12.74,4.8\n12.77,12.72\n12.8,11.9\n12.82,12.78\n12.85,10.3\n12.88,12.6\n12.91,12.86\n12.93,6.4\n12.96,12.9\n12.99,12.1\n13.02,12.97\n13.05,8.9\n13.08,13.02\n13.11,12.8\n13.13,11.5\n13.16,13.1\n13.19,2.9\n13.22,13\n13.25,13.2\n13.28,12.2\n13.31,13.25\n13.34,7.8\n13.36,13.1\n13.39,13.34\n13.42,10.9\n13.45,13.4\n13.48,12.9\n13.51,5.3\n13.54,13.48\n13.57,13.1\n13.59,9.4\n13.62,13.57\n13.65,13.3\n13.68,13.63\n13.71,11.8\n13.74,4.1\n13.77,13.72\n13.8,13.4\n13.83,13.78\n13.86,8.4\n13.89,13.6\n13.92,13.87\n13.95,12.5\n13.98,13.93\n12.11,11\n12.51,12.2\n12.91,12.5\n13.31,12.7\n13.71,13.3\n12.31,10.1\n12.76,11.3\n13.21,11.9\n13.66,12.1\n12.41,9\n13.01,10.1\n13.56,11\n12.61,6.7\n13.41,6.2\n13.91,7\n12.21,2.6\n12.86,3.2\n13.61,3\n12.46,5\n13.11,4.4\n14.02,13.97\n14.04,13.3\n14.06,14.01\n14.09,10.9\n14.11,14.06\n14.13,13.8\n14.16,7.4\n14.18,14.14\n14.21,13.7\n14.23,14.18\n14.26,11.9\n14.28,14.23\n14.31,14\n14.33,4.5\n14.36,14.31\n14.38,13.6\n14.41,14.36\n14.43,9.6\n14.46,14.4\n14.48,14.1\n14.51,12.7\n14.53,14.48\n14.56,6.1\n14.58,14.53\n14.61,14.2\n14.63,14.59\n14.66,10.7\n14.68,14.63\n14.71,14\n14.73,14.69\n14.76,3.3\n14.78,14.7\n14.81,14.76\n14.83,13.2\n14.86,14.81\n14.88,8.3\n14.91,14.6\n14.93,14.89\n14.96,11.4\n14.98,14.93\n15.01,14.5\n15.03,14.99\n15.06,5.5\n15.08,15.03\n15.11,14.7\n15.13,15.08\n15.16,12.4\n15.18,15.13\n15.21,9.1\n15.23,15\n15.26,15.21\n15.28,13.9\n15.31,15.26\n15.33,2.4\n15.36,15.3\n15.38,14.8\n15.41,15.37\n15.43,10.5\n15.46,15.41\n15.48,15.1\n15.51,13.1\n15.53,15.49\n15.56,7\n15.58,15.53\n15.61,15.2\n15.63,15.59\n15.66,11.8\n15.68,15.63\n15.71,14.6\n15.73,15.69\n15.76,4.8\n15.78,15.7\n15.81,15.76\n15.83,13.6\n15.86,15.81\n15.88,8.9\n15.91,15.5\n15.93,15.89\n15.96,12.1\n15.98,15.93\n14.16,13.1\n14.41,12.9\n14.66,13.9\n14.91,13.4\n15.16,14.3\n15.41,13.8\n15.66,14.9\n15.91,14.2\n14.31,12.3\n14.81,12\n15.31,12.8\n15.81,13\n14.21,10\n14.71,9\n15.21,10.8\n15.71,9.6\n14.36,7.9\n15.01,6.6\n15.61,6.2\n14.51,5\n15.26,3.9\n15.86,5.6\n14.11,2.9\n14.96,2\n15.51,3.6\n14.61,14.55\n15.01,14.96\n15.36,15.33\n15.76,15.72\n14.46,14.42\n14.86,14.8\n15.56,15.5\n15.96,15.9\n16.02,15.97\n16.03,15.4\n16.05,16.01\n16.07,12.4\n16.09,16.05\n16.11,15.8\n16.13,8.6\n16.15,16.11\n16.17,15.5\n16.19,16.15\n16.21,13.7\n16.23,16.18\n16.25,15.9\n16.27,5.4\n16.29,16.25\n16.31,15.6\n16.33,16.29\n16.35,11.2\n16.37,16.32\n16.39,16\n16.41,14.6\n16.43,16.39\n16.45,7.1\n16.47,16.42\n16.49,16.1\n16.51,16.47\n16.53,12.9\n16.55,16.5\n16.57,15.7\n16.59,16.55\n16.61,3.8\n16.63,16.5\n16.65,16.61\n16.67,14.9\n16.69,16.65\n16.71,9.7\n16.73,16.4\n16.75,16.71\n16.77,13.3\n16.79,16.74\n16.81,16.3\n16.83,16.79\n16.85,6\n16.87,16.83\n16.89,16.5\n16.91,15.2\n16.93,16.89\n16.95,10.4\n16.97,16.92\n16.99,16.6\n17.01,16.97\n17.03,14\n17.05,17\n17.07,2.6\n17.09,17.05\n17.11,16.7\n17.13,17.09\n17.15,12\n17.17,17.12\n17.19,16.9\n17.21,15.8\n17.23,17.19\n17.25,8\n17.27,17.22\n17.29,16.8\n17.31,17.27\n17.33,13.6\n17.35,17.3\n17.37,17\n17.39,17.35\n17.41,4.6\n17.43,17.38\n17.45,16.4\n17.47,17.43\n17.49,11\n17.51,17.46\n17.53,17.1\n17.55,17.51\n17.57,14.8\n17.59,17.54\n17.61,6.8\n17.63,17.59\n17.65,17.2\n17.67,17.63\n17.69,12.7\n17.71,17.66\n17.73,16.9\n17.75,17.71\n17.77,9.2\n17.79,17.74\n17.81,17.4\n17.83,17.79\n17.85,15.5\n17.87,17.82\n17.89,3.2\n17.91,17.87\n17.93,17.5\n17.95,17.91\n17.97,13.9\n17.99,17.94\n16.11,15.2\n16.31,14.8\n16.51,15.9\n16.71,15.4\n16.91,16.2\n17.11,15.9\n17.31,16.5\n17.51,16\n17.71,17\n17.91,16.4\n16.21,14.1\n16.46,13.5\n16.76,14.4\n17.01,15\n17.26,14.5\n17.56,15.9\n17.86,15.1\n16.16,11.8\n16.56,10.9\n16.96,12.5\n17.36,11.7\n17.76,13.4\n16.36,9.3\n16.86,8.1\n17.16,9.8\n17.66,10.6\n16.06,6.4\n16.66,5.8\n17.06,7.4\n17.46,6.1\n17.96,8.2\n16.26,4.1\n16.96,3.4\n17.56,4.9\n16.41,16.36\n16.81,16.77\n17.21,17.17\n17.61,17.55\n17.96,17.9\n16.16,16.12\n16.61,16.57\n17.06,17.02\n17.46,17.42\n17.86,17.8\n16.31,16.2\n16.76,16.6\n17.16,17\n17.66,17.45\n18.02,17.97\n18.03,17.5\n18.05,18.01\n18.06,13.9\n18.08,18.04\n18.09,17.8\n18.11,9.5\n18.12,18.08\n18.14,17.3\n18.15,18.11\n18.17,15.6\n18.18,18.14\n18.2,17.9\n18.21,6.2\n18.23,18.19\n18.24,17.6\n18.26,18.22\n18.27,12.3\n18.29,18.25\n18.3,18\n18.32,16.5\n18.33,18.29\n18.35,8.1\n18.36,18.32\n18.38,18.1\n18.39,18.35\n18.41,14.6\n18.42,18.38\n18.44,17.7\n18.45,18.41\n18.47,4.3\n18.48,18.3\n18.5,18.46\n18.51,16.9\n18.53,18.49\n18.54,11.1\n18.56,18.2\n18.57,18.53\n18.59,15.1\n18.6,18.56\n18.62,18.3\n18.63,18.59\n18.65,7\n18.66,18.62\n18.68,18.4\n18.69,17.3\n18.71,18.67\n18.72,12.9\n18.74,18.69\n18.75,18.4\n18.77,18.73\n18.78,16\n18.8,18.76\n18.81,3\n18.83,18.79\n18.84,18.5\n18.86,18.82\n18.87,14\n18.89,18.85\n18.9,18.1\n18.92,18.88\n18.93,9.9\n18.95,18.91\n18.96,18.6\n18.98,17.6\n18.99,18.95\n19.01,5.6\n19.02,18.98\n19.04,18.7\n19.05,19.01\n19.07,15.5\n19.08,19.04\n19.1,18.8\n19.11,19.07\n19.13,11.8\n19.14,19.1\n19.16,18.4\n19.17,19.13\n19.19,17\n19.2,19.16\n19.22,8.7\n19.23,19.19\n19.25,18.9\n19.26,19.22\n19.28,13.7\n19.29,19.25\n19.31,18.6\n19.32,19.28\n19.34,4\n19.35,19.31\n18.11,17.1\n18.31,16.9\n18.51,17.8\n18.71,17.2\n18.91,18\n19.11,17.6\n19.31,18.3\n18.21,15.8\n18.46,15.2\n18.76,16.3\n19.01,16.6\n19.26,15.7\n18.16,13.2\n18.56,12.5\n18.96,14.3\n18.36,10.4\n18.86,11.3\n19.16,10.1\n18.06,7.5\n18.66,8.9\n19.06,7.3\n18.26,5.1\n18.96,4.7\n18.41,18.37\n18.81,18.77\n19.21,19.17\n18.16,18.12\n18.61,18.57\n19.06,19.02\n18.31,18.2\n18.76,18.6\n19.16,19\n18.71,2.4\n19.31,3.1\n18.61,3.6\n19.21,2.9\n18.91,6.1\n8.05,6.9\n8.31,5.4\n8.55,7.6\n8.79,6\n9.04,8.2\n9.29,6.7\n9.52,8.6\n9.77,5.8\n8.43,7.9\n8.94,7.2\n9.45,7.7\n9.88,8.9\n10.03,8.1\n10.19,9.3\n10.35,7\n10.51,9.7\n10.66,8.4\n10.82,6.8\n10.99,10\n11.15,8.8\n11.31,10.4\n11.47,7.7\n11.62,10.8\n11.79,9.3\n11.95,8.2\n10.28,5.7\n10.74,5.2\n11.24,6.3\n11.72,6.9\n10.41,9.9\n10.93,10.3\n11.39,10.9\n11.87,11.3\n12.03,9.7\n12.15,11.1\n12.28,8.1\n12.4,11.6\n12.53,9.5\n12.66,12\n12.79,8.6\n12.92,11.2\n13.05,12.3\n13.18,9.2\n13.31,12.5\n13.45,10.6\n13.58,8.5\n13.71,12.9\n13.84,11\n13.96,13.3\n12.21,6.3\n12.68,5.5\n13.12,6.9\n13.56,6.1\n13.99,6.6\n12.34,11.9\n12.86,12.2\n13.24,12.6\n13.66,13\n12.47,4.4\n13.38,5\n14.02,11.4\n14.1,13.2\n14.18,9.5\n14.27,12.7\n14.35,13.9\n14.43,10.8\n14.52,8.7\n14.6,13.4\n14.68,11.6\n14.77,14.1\n14.85,10\n14.93,12.9\n15.02,14.3\n15.1,11.2\n15.18,13.6\n15.27,9.3\n15.35,14.6\n15.43,12.1\n15.52,10.4\n15.6,14.8\n15.68,13.1\n15.77,11.7\n15.85,15\n15.93,9.9\n14.14,6.8\n14.56,7.4\n14.97,6\n15.39,7.1\n15.81,7.9\n14.31,5.3\n15.14,4.8\n15.97,5.2\n14.72,14.3\n15.22,14.8\n15.64,15.2\n14.39,14\n16.02,12.2\n16.08,14.6\n16.15,10.2\n16.22,15.3\n16.28,13.1\n16.35,11.5\n16.41,15.7\n16.48,12.7\n16.55,9.6\n16.61,14.9\n16.68,13.5\n16.75,16\n16.81,11.3\n16.88,14.3\n16.95,16.4\n17.01,12.6\n17.08,15\n17.15,10.7\n17.21,16.3\n17.28,13.8\n17.35,11.9\n17.41,16.7\n17.48,14.4\n17.55,12.3\n17.61,16.9\n17.68,13.6\n17.75,15.6\n17.81,11\n17.88,17.1\n17.95,14.7\n16.12,7.3\n16.52,8\n16.92,6.7\n17.32,8.7\n17.72,7.5\n16.38,5.8\n17.18,6.2\n17.92,5.5\n16.45,15.9\n16.85,16.4\n17.25,16.8\n17.65,17.2\n16.05,15.5\n17.45,17\n16.65,12\n17.12,13.3\n18.02,14.9\n18.08,16.7\n18.13,12.4\n18.19,17.2\n18.25,14\n18.3,10.9\n18.36,16.4\n18.42,17.5\n18.47,13.2\n18.53,15.9\n18.59,11.7\n18.64,17.7\n18.7,14.5\n18.76,12.6\n18.81,17.9\n18.87,15.3\n18.93,11.2\n18.98,18.2\n19.04,13.9\n19.1,16.5\n19.15,18.4\n19.21,12.4\n19.27,17.3\n19.32,14.9\n18.06,8.6\n18.46,9.4\n18.86,7.9\n19.26,9.8\n18.26,6.9\n19.06,6.4\n18.56,18\n18.96,18.5\n19.3,18.8\n18.16,17.7\n18.72,13.5\n19.19,15.6\n18.35,14.3\n18.64,5.7\n19.12,5.1", "format": {"type": "csv", "parse": {"x": "number", "y": "number"}}},
      "mark": {"type": "point", "shape": "square", "filled": true, "size": 4, "color": "#111", "opacity": 1, "strokeWidth": 0, "clip": true},
      "encoding": {
        "x": {"field": "x", "type": "quantitative", "scale": {"type": "log", "domain": [1, 19.36], "nice": false},
          "axis": {"orient": "bottom", "title": "3D separation [pc]", "values": [1,2,3,4,5,6,7,8,9,10], "labelExpr": "datum.value == 1 ? '10⁰' : datum.value == 10 ? '10¹' : ''", "tickSize": {"condition": {"test": "datum.value == 1 || datum.value == 10", "value": 5}, "value": 2.5}}},
        "y": {"field": "y", "type": "quantitative", "scale": {"type": "log", "domain": [0.001, 20], "nice": false},
          "axis": {"orient": "left", "title": "Projected separation [pc]", "values": [0.001,0.002,0.003,0.004,0.005,0.006,0.007,0.008,0.009,0.01,0.02,0.03,0.04,0.05,0.06,0.07,0.08,0.09,0.1,0.2,0.3,0.4,0.5,0.6,0.7,0.8,0.9,1,2,3,4,5,6,7,8,9,10,20], "labelExpr": "abs(log(datum.value)/LN10 - round(log(datum.value)/LN10)) < 0.01 ? ['10⁻³','10⁻²','10⁻¹','10⁰','10¹'][round(log(datum.value)/LN10) + 3] : ''", "tickSize": {"condition": {"test": "abs(log(datum.value)/LN10 - round(log(datum.value)/LN10)) < 0.01", "value": 5}, "value": 2.5}}}
      }
    },
    {
      "data": {"values": "x,y\n4.17,0.458\n8.53,0.47\n15.8,0.465\n18.1,0.456\n16.0,0.252", "format": {"type": "csv", "parse": {"x": "number", "y": "number"}}},
      "mark": {"type": "circle", "size": 10, "color": "#ff0000", "opacity": 1},
      "encoding": {
        "x": {"field": "x", "type": "quantitative", "scale": {"type": "log", "domain": [1, 19.36], "nice": false},
          "axis": {"orient": "top", "title": null, "labels": false, "values": [1,2,3,4,5,6,7,8,9,10], "tickSize": {"condition": {"test": "datum.value == 1 || datum.value == 10", "value": 5}, "value": 2.5}}},
        "y": {"field": "y", "type": "quantitative", "scale": {"type": "log", "domain": [0.001, 20], "nice": false}, "axis": null}
      }
    },
    {
      "data": {"values": [{"cut": 0.5}]},
      "mark": {"type": "rule", "color": "#262626", "strokeWidth": 2.5, "strokeDash": [9, 4]},
      "encoding": {"y": {"field": "cut", "type": "quantitative", "scale": {"type": "log", "domain": [0.001, 20], "nice": false}, "axis": null}}
    }
  ]
}
]
}
